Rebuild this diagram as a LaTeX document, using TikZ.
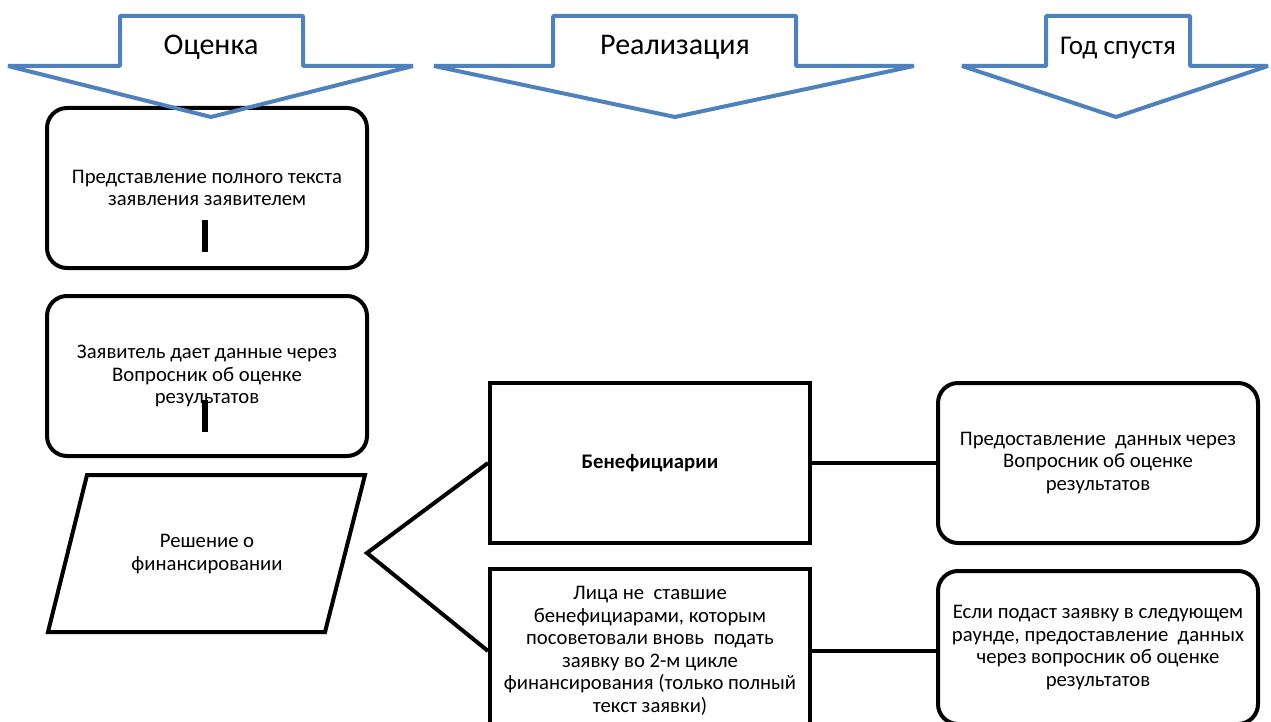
\documentclass[tikz,border=0pt]{standalone}
\usepackage{fontspec}
\setmainfont{Carlito}
\usetikzlibrary{positioning}
\definecolor{headblue}{RGB}{79,129,189}

\begin{document}
\begin{tikzpicture}[x=1pt, y=-1pt,
    phase/.style={draw=headblue, line width=4pt, line join=bevel},
    phasetext/.style={font=\fontsize{30}{34}\selectfont},
    box/.style={draw, line width=4pt, minimum width=320pt, minimum height=160pt, align=center, inner sep=0pt, font=\fontsize{20.7}{22.5}\selectfont},
    roundbox/.style={box, rounded corners=20pt},
    plain/.style={align=center, font=\fontsize{20.7}{22.5}\selectfont},
    link/.style={line width=4pt},
    stub/.style={line width=6pt}]
\clip (0,0) rectangle (1271,722);

\node[roundbox] (apply) at (207,188) {Представление полного текста\\заявления заявителем};
\node[roundbox, below=24pt of apply] (quest) {Заявитель дает данные через\\Вопросник об оценке\\результатов};
\draw[stub] (205,220) -- ++(0,32);
\draw[stub] (205,400) -- ++(0,32);

\draw[link] (87,475) -- ++(278,0) -- ++(-40,157) -- ++(-277,0) -- cycle;
\node[plain] (decision) at (207,554) {Решение о\\финансировании};
\coordinate (fork) at (367,553);

\node[box] (benef) at (650,463) {\textbf{Бенефициарии}};
\node[box, below=22pt of benef, minimum height=164pt] (nonbenef) {Лица не~ ставшие\\бенефициарами, которым\\посоветовали вновь~ подать\\заявку во 2-м цикле\\финансирования (только полный\\текст заявки)};
\node[roundbox, right=124pt of benef] (report) {Предоставление~ данных через\\Вопросник об оценке\\результатов};
\node[roundbox, below=24pt of report, minimum height=153pt] (reapply) {Если подаст заявку в следующем\\раунде, предоставление~ данных\\через вопросник об оценке\\результатов};

\draw[link] (benef.west) -- (fork) -- (nonbenef.west);
\draw[link] (benef) -- (report);
\draw[link] (nonbenef.east) -- (nonbenef.east -| reapply.west);

\draw[phase] (120,16) -- ++(183,0) -- ++(0,50) -- ++(110,0) -- (211,117) -- (8,66) -- ++(112,0) -- cycle;
\draw[phase] (553,16) -- ++(243,0) -- ++(0,50) -- ++(118,0) -- (675,117) -- (434,66) -- ++(119,0) -- cycle;
\draw[phase] (1046,16) -- ++(144,0) -- ++(0,50) -- ++(78,0) -- (1116,117) -- (962,66) -- ++(84,0) -- cycle;
\node[phasetext] (assess) at (211,47) {Оценка};
\node[phasetext] (implement) at (675,47) {Реализация};
\node[phasetext, font=\fontsize{27}{30}\selectfont] (later) at (1118,48) {Год спустя};
\end{tikzpicture}
\end{document}
